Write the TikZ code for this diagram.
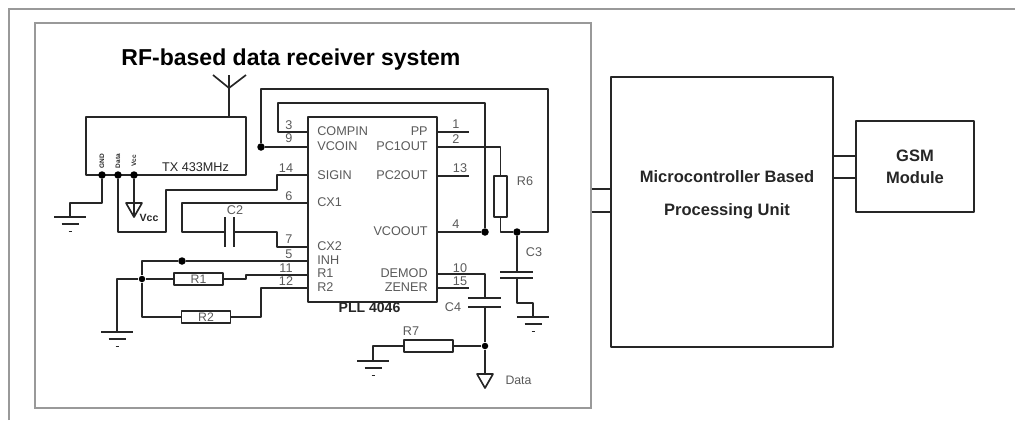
\documentclass[tikz,border=0pt]{standalone}
\usepackage{fontspec}
\setmainfont{Liberation Sans}
\definecolor{framegray}{gray}{0.6}
\definecolor{wiregray}{gray}{0.15}
\definecolor{labelgray}{gray}{0.35}
\tikzset{
    wire/.style={line width=0.95pt,draw=wiregray,line join=round},
    frameline/.style={line width=1.1pt,draw=framegray},
    box/.style={wire,rectangle,inner sep=0pt},
    res/.style={box,text=labelgray,font=\fontsize{7}{8}\selectfont},
    dot/.style={circle,fill=black,inner sep=0pt,minimum size=0.15cm},
    pintext/.style={text=labelgray,inner sep=0pt,font=\fontsize{7.2}{8}\selectfont},
    boldtext/.style={inner sep=0pt,text=wiregray,font=\fontsize{8}{9}\selectfont\bfseries},
    gnd/.pic={
        \draw [wire] (-16,0)--(16,0);
        \draw [wire] (-8.5,7)--(8.5,7);
        \draw [wire] (-1.5,14.5)--(1.5,14.5);
    },
    tri/.pic={
        \draw [wire] (-8,0)--(8,0)--(0,14)--cycle;
    },
}
\begin{document}
\begin{tikzpicture}[x=0.02cm,y=-0.02cm]
        \useasboundingbox (0,0) rectangle (1015,420);
        \draw [frameline] (9,420)--(9,9)--(1015,9);
        \node [rectangle,frameline,inner sep=0pt,minimum width=11.12cm,minimum height=7.7cm] (frame) at (313,215.5) {};
        \node [boldtext,font=\fontsize{13.1}{15}\selectfont\bfseries,text=black] (title) at (291,60) {RF-based data receiver system};

        % transmitter
        \node [box,minimum width=3.2cm,minimum height=1.16cm] (tx) at (166,146) {};
        \coordinate (ant) at (229,88);
        \draw [wire] (tx.north -| ant)--(ant)--(229,75);
        \draw [wire] (213,75)--(ant)--(246,75);
        \node [pintext,text=wiregray] (txname) at (195.5,167) {TX 433MHz};
        \node [dot] (gndpin) at (102,175) {};
        \node [dot] (datapin) at (118,175) {};
        \node [dot] (vccpin) at (134,175) {};
        \node [boldtext,font=\fontsize{3.7}{4}\selectfont\bfseries,rotate=90] (gndtext) at (102,161) {GND};
        \node [boldtext,font=\fontsize{3.7}{4}\selectfont\bfseries,rotate=90] (datatext) at (118,161) {Data};
        \node [boldtext,font=\fontsize{3.7}{4}\selectfont\bfseries,rotate=90] (vcctext) at (134,161) {Vcc};
        \coordinate (gnda) at (70,217);
        \draw [wire] (gndpin)--(102,203)--(70,203)--(gnda);
        \pic at (gnda) {gnd};
        \coordinate (vcctri) at (134,203);
        \draw [wire] (vccpin)--(134,216);
        \pic at (vcctri) {tri};
        \node [boldtext,font=\fontsize{6}{7}\selectfont\bfseries] (vcclabel) at (149,218) {Vcc};

        % chip
        \node [box,minimum width=2.58cm,minimum height=3.7cm] (chip) at (372.5,209.5) {};
        \node [boldtext] (chipname) at (369.5,308) {PLL 4046};
        \node [pintext,anchor=west] (compin) at (317,131) {COMPIN};
        \node [pintext,anchor=west] (vcoin) at (317,146) {VCOIN};
        \node [pintext,anchor=west] (sigin) at (317,175.5) {SIGIN};
        \node [pintext,anchor=west] (cx1) at (317,202) {CX1};
        \node [pintext,anchor=west] (cx2) at (317,246) {CX2};
        \node [pintext,anchor=west] (inh) at (317,260) {INH};
        \node [pintext,anchor=west] (rone) at (317,273.5) {R1};
        \node [pintext,anchor=west] (rtwo) at (317,287.5) {R2};
        \node [pintext,anchor=east] (pp) at (428,131) {PP};
        \node [pintext,anchor=east] (pc1out) at (428,146) {PC1OUT};
        \node [pintext,anchor=east] (pc2out) at (428,175.5) {PC2OUT};
        \node [pintext,anchor=east] (vcoout) at (428,231) {VCOOUT};
        \node [pintext,anchor=east] (demod) at (428,273.5) {DEMOD};
        \node [pintext,anchor=east] (zener) at (428,287.5) {ZENER};
        \node [pintext] (n3) at (289,125) {3};
        \node [pintext] (n9) at (289,138) {9};
        \node [pintext] (n14) at (286,168) {14};
        \node [pintext] (n6) at (289,196) {6};
        \node [pintext] (n7) at (289,239) {7};
        \node [pintext] (n5) at (289,254) {5};
        \node [pintext] (n11) at (286,268) {11};
        \node [pintext] (n12) at (286,281) {12};
        \node [pintext] (n1) at (456,124) {1};
        \node [pintext] (n2) at (456,139) {2};
        \node [pintext] (n13) at (460,168) {13};
        \node [pintext] (n4) at (456,224) {4};
        \node [pintext] (n10) at (460,268) {10};
        \node [pintext] (n15) at (460,281) {15};

        % right side pins and feedback
        \node [dot] (jvco) at (261,147) {};
        \node [dot] (jout) at (485,232) {};
        \node [dot] (jc3) at (517,232) {};
        \node [box,minimum width=0.27cm,minimum height=0.82cm] (r6) at (500.5,196.5) {};
        \node [pintext] (r6text) at (525,181) {R6};
        \draw [wire] (chip.west |- 0,132)--(278,132)--(278,103)--(485,103)--(jout);
        \draw [wire] (chip.west |- 0,147)--(jvco)--(261,89)--(548,89)--(548,232)--(jc3);
        \draw [wire] (jc3)--(500.5,232)--(r6.south);
        \draw [wire] (r6.north)--(500.5,147)--(chip.east |- 0,147);
        \draw [wire] (chip.east |- 0,132)--(469,132);
        \draw [wire] (chip.east |- 0,176)--(469,176);
        \draw [wire] (chip.east |- 0,232)--(jout);

        % C3
        \coordinate (gndb) at (533,317);
        \draw [wire] (jc3)--(517,272);
        \draw [wire] (500,272)--(533,272);
        \draw [wire] (500,278)--(533,278);
        \draw [wire] (517,278)--(517,303)--(533,303)--(gndb);
        \pic at (gndb) {gnd};
        \node [pintext] (c3text) at (534,252) {C3};

        % C4 and R7
        \node [dot,minimum size=0.13cm] (jdata) at (485,346) {};
        \node [box,minimum width=0.98cm,minimum height=0.24cm] (r7) at (428.5,346) {};
        \node [pintext] (r7text) at (411,331) {R7};
        \node [pintext] (c4text) at (453,307) {C4};
        \coordinate (gndc) at (373,361);
        \coordinate (datatri) at (485,374);
        \draw [wire] (chip.east |- 0,274)--(485,274)--(485,298);
        \draw [wire] (chip.east |- 0,288)--(469,288);
        \draw [wire] (468,298)--(501,298);
        \draw [wire] (468,307)--(501,307);
        \draw [wire] (485,307)--(jdata)--(datatri);
        \draw [wire] (jdata)--(r7.east);
        \draw [wire] (r7.west)--(373,346)--(gndc);
        \pic at (gndc) {gnd};
        \pic at (datatri) {tri};
        \node [pintext,font=\fontsize{7}{8}\selectfont] (datalabel) at (518.5,380) {Data};

        % left side pins
        \draw [wire] (datapin)--(118,232)--(166,232)--(166,190)--(277,190)--(277,175)--(chip.west |- 0,175);
        \node [pintext] (c2text) at (235,210) {C2};
        \draw [wire] (chip.west |- 0,203)--(182,203)--(182,232)--(225,232);
        \draw [wire] (225,217)--(225,247);
        \draw [wire] (234,217)--(234,247);
        \draw [wire] (234,232)--(277,232)--(277,247)--(chip.west |- 0,247);

        \node [dot] (jinh) at (182,261) {};
        \node [dot,minimum size=0.13cm] (jr1) at (142,279) {};
        \node [res,minimum width=0.98cm,minimum height=0.24cm] (r1) at (198.5,279) {R1};
        \node [res,minimum width=0.98cm,minimum height=0.24cm] (r2) at (206,317) {R2};
        \coordinate (gndd) at (117,332);
        \draw [wire] (chip.west |- 0,261)--(jinh)--(142,261)--(jr1)--(142,317)--(r2.west);
        \draw [wire] (r2.east)--(261,317)--(261,288)--(chip.west |- 0,288);
        \draw [wire] (gndd)--(117,279)--(jr1)--(r1.west);
        \draw [wire] (r1.east)--(246,279)--(246,275)--(chip.west |- 0,275);
        \pic at (gndd) {gnd};

        % blocks
        \node [box,minimum width=4.44cm,minimum height=5.4cm] (mcu) at (722,212) {};
        \node [boldtext,align=center,font=\fontsize{9.4}{18.7}\selectfont\bfseries] (mcutext) at (727,194.5) {Microcontroller Based\\Processing Unit};
        \node [box,minimum width=2.36cm,minimum height=1.82cm,align=center,text=wiregray,font=\fontsize{9.4}{12.5}\selectfont\bfseries] (gsm) at (915,166.5) {GSM\\Module};
        \coordinate (la) at (frame.east |- 0,189);
        \coordinate (lb) at (frame.east |- 0,212);
        \coordinate (ra) at (mcu.east |- 0,156);
        \coordinate (rb) at (mcu.east |- 0,178);
        \draw [wire] (la)--(mcu.west |- la);
        \draw [wire] (lb)--(mcu.west |- lb);
        \draw [wire] (ra)--(gsm.west |- ra);
        \draw [wire] (rb)--(gsm.west |- rb);
\end{tikzpicture}
\end{document}
